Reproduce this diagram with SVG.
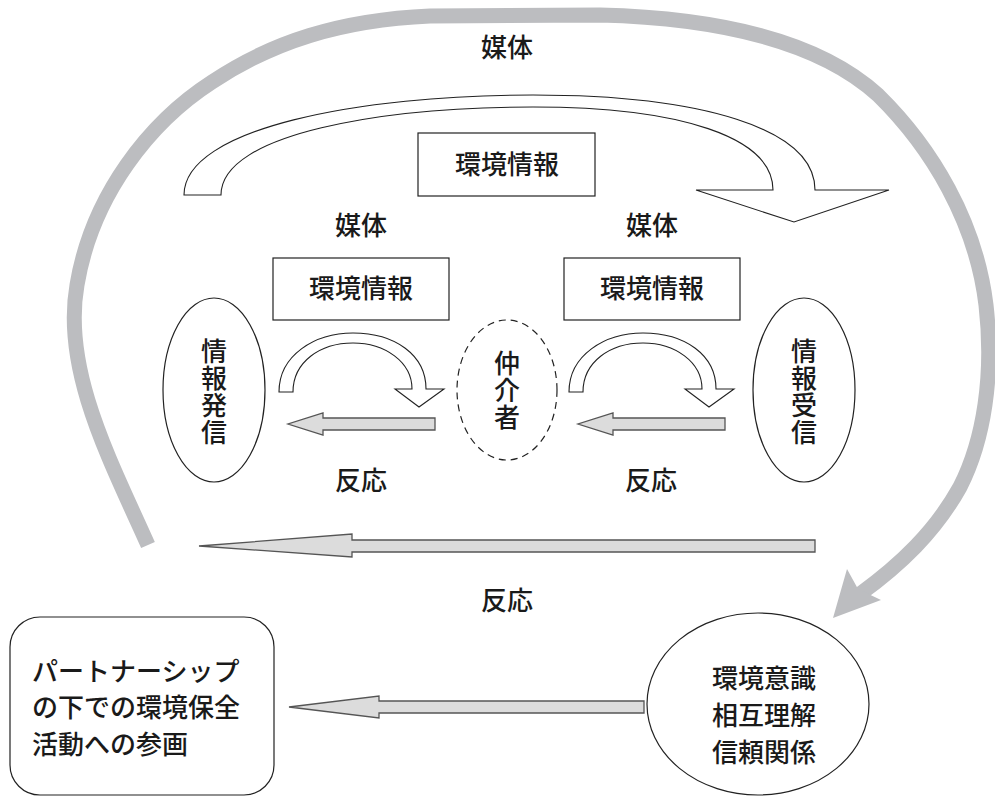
<svg xmlns="http://www.w3.org/2000/svg" width="995" height="796" viewBox="0 0 995 796">
<style>
  text { font-family: "Noto Sans CJK JP", "Noto Sans CJK SC", sans-serif; font-size: 26px; fill: #1a1a1a; font-weight: 500; }
  .c { text-anchor: middle; }
  .v { writing-mode: vertical-rl; text-anchor: middle; letter-spacing: 1px; }
  .box { fill: #fff; stroke: #222; stroke-width: 1.2; }
  .curl { fill: #fff; stroke: #222; stroke-width: 1.1; stroke-linejoin: miter; }
  .react { fill: #dcdcdc; stroke: #555; stroke-width: 1.3; }
  .band { fill: none; stroke: #bcbdc0; stroke-width: 15; }
</style>
<rect width="995" height="796" fill="#fff"/>

<g id="connectors">
  <path class="band" d="M148,545 C110,460 62,370 77,285 C92,195 150,122 212,82 C272,42 340,20 430,16 L600,15 C720,18 820,42 878,95 C932,148 976,222 986,305 C994,375 984,440 960,487 C935,532 900,565 860,594"/>
  <polygon points="833,618 847,569 858,589 881,600" fill="#bcbdc0"/>
  <path class="curl" d="M184,195 C184,128 360,95 533,95 C700,95 815,128 815,190 L889,190 L794,222 L696,190 L773,190 C773,137 680,107 533,107 C385,107 221,133 221,195 Z"/>
  <path class="curl" d="M279,392 C279,355 315,333 353,333 C395,333 426,355 426,389 L444,389 L419,407 L395,389 L412,389 C412,362 385,343 353,343 C320,343 293,362 293,392 Z"/>
  <path class="curl" transform="translate(290,0)" d="M279,392 C279,355 315,333 353,333 C395,333 426,355 426,389 L444,389 L419,407 L395,389 L412,389 C412,362 385,343 353,343 C320,343 293,362 293,392 Z"/>
  <polygon class="react" points="435,418 323,418 323,413 288,424 323,435 323,430 435,430"/>
  <polygon class="react" points="725,418 613,418 613,413 578,424 613,435 613,430 725,430"/>
  <polygon class="react" points="815,540 352,540 352,534 199,546 352,557 352,552 815,552"/>
  <polygon class="react" points="644,701 379,701 379,696 289,707 379,718 379,713 644,713"/>
</g>

<g id="label-media-top"><text class="c" x="507" y="57">媒体</text></g>
<g id="label-media-left"><text class="c" x="361" y="235">媒体</text></g>
<g id="label-media-right"><text class="c" x="652" y="235">媒体</text></g>
<g id="label-react-left"><text class="c" x="361" y="490">反応</text></g>
<g id="label-react-right"><text class="c" x="651" y="490">反応</text></g>
<g id="label-react-bottom"><text class="c" x="507" y="610">反応</text></g>

<g id="info-top">
  <rect class="box" x="418" y="133" width="177" height="63"/>
  <text class="c" x="507" y="174">環境情報</text>
</g>
<g id="info-left">
  <rect class="box" x="273" y="258" width="176" height="62"/>
  <text class="c" x="361" y="298">環境情報</text>
</g>
<g id="info-right">
  <rect class="box" x="564" y="258" width="176" height="62"/>
  <text class="c" x="652" y="298">環境情報</text>
</g>

<g id="sender">
  <ellipse class="box" cx="214" cy="390" rx="51" ry="92"/>
  <text class="v" x="214" y="392">情報発信</text>
</g>
<g id="mediator">
  <ellipse cx="507" cy="390" rx="50" ry="70" fill="#fff" stroke="#222" stroke-width="1.2" stroke-dasharray="7,5"/>
  <text class="v" x="507" y="391">仲介者</text>
</g>
<g id="receiver">
  <ellipse class="box" cx="804" cy="390" rx="51" ry="92"/>
  <text class="v" x="804" y="392">情報受信</text>
</g>

<g id="partnership">
  <rect class="box" x="10" y="617" width="264" height="178" rx="30" ry="30"/>
  <text x="32" y="681">パートナーシップ</text>
  <text x="32" y="717">の下での環境保全</text>
  <text x="32" y="754">活動への参画</text>
</g>
<g id="awareness">
  <ellipse class="box" cx="758" cy="704" rx="111" ry="91"/>
  <text class="c" x="764" y="688">環境意識</text>
  <text class="c" x="764" y="725">相互理解</text>
  <text class="c" x="764" y="762">信頼関係</text>
</g>
</svg>
